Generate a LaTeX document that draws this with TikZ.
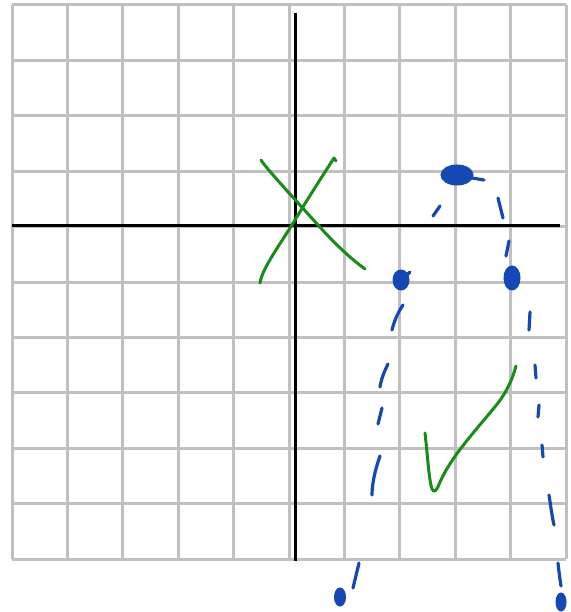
\documentclass[tikz,border=0pt]{standalone}
\definecolor{gridgray}{RGB}{192,192,192}
\definecolor{inkblue}{RGB}{22,72,180}
\definecolor{inkgreen}{RGB}{24,140,24}
\tikzset{
  gridline/.style={draw=gridgray, line width=3pt},
  axisline/.style={draw=black, line width=3pt},
  greenink/.style={draw=inkgreen, line width=3pt, line cap=round, line join=round},
  blueink/.style={draw=inkblue, line width=3.2pt, line cap=round, line join=round},
  blueblob/.style={fill=inkblue, draw=inkblue, line width=1pt}
}
\begin{document}
\begin{tikzpicture}[x=1pt,y=-1pt]
\useasboundingbox (0,0) rectangle (570,612);
\fill[white] (0,0) rectangle (570,612);
% grid
\foreach \i in {0,...,10} {
  \draw[gridline] ({12+55.4*\i},5) -- ({12+55.4*\i},559);
  \draw[gridline] (12,{5+55.4*\i}) -- (566,{5+55.4*\i});
}
% axes
\draw[axisline] (295,13) -- (295,561);
\draw[axisline] (12,225) -- (560,225);
% green X
\draw[greenink] (261,160) .. controls (264,166) and (300,205) .. (318,225) .. controls (335,244) and (350,258) .. (365,269);
\draw[greenink] (260,283) .. controls (262,268) and (282,242) .. (298,215) .. controls (312,192) and (325,172) .. (334,158) -- (336,161);
% green check
\draw[greenink] (425,433) .. controls (428,460) and (429,480) .. (432,489) .. controls (434,494) and (437,490) .. (440,482) .. controls (452,455) and (478,428) .. (498,403) .. controls (508,390) and (513,377) .. (516,366);
% blue dashed parabola
\draw[blueink] (433,216) -- (440,206);
\draw[blueink] (466,177) -- (484,180);
\draw[blueink] (498,198) -- (503,218);
\draw[blueink] (509,241) -- (506,256);
\draw[blueink] (410,272) -- (406,276);
\draw[blueink] (403,305) .. controls (397,314) and (394,322) .. (392,330);
\draw[blueink] (388,364) .. controls (384,372) and (381,380) .. (380,387);
\draw[blueink] (382,408) -- (378,424);
\draw[blueink] (380,456) .. controls (375,470) and (372,484) .. (372,495);
\draw[blueink] (359,563) -- (353,588);
\draw[blueink] (530,312) -- (529,330);
\draw[blueink] (535,365) -- (536,378);
\draw[blueink] (539,405) -- (538,417);
\draw[blueink] (542,445) -- (543,457);
\draw[blueink] (549,495) .. controls (551,508) and (552,516) .. (554,525);
\draw[blueink] (558,563) .. controls (559,572) and (560,580) .. (561,586);
% blue dots
\filldraw[blueblob] (457,175) ellipse [x radius=16, y radius=10];
\filldraw[blueblob] (401,280) ellipse [x radius=8, y radius=10];
\filldraw[blueblob] (512,278) ellipse [x radius=8, y radius=12];
\filldraw[blueblob] (340,597) ellipse [x radius=5.5, y radius=9];
\filldraw[blueblob] (561,602) ellipse [x radius=5, y radius=9];
\end{tikzpicture}
\end{document}
